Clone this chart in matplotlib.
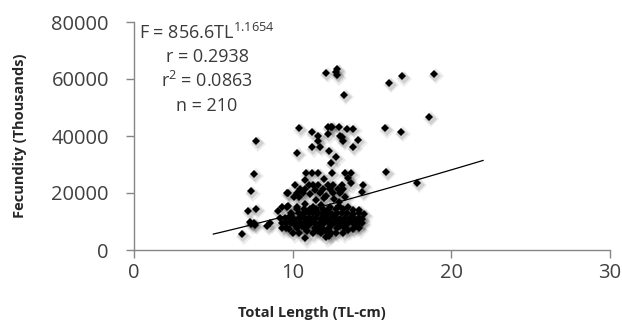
#! /usr/bin/env python3

import numpy as np
import matplotlib
matplotlib.use("Agg")
from matplotlib import pyplot as plt
from matplotlib import transforms

plt.rcParams['font.family'] = ['Open Sans', 'DejaVu Sans']
plt.rcParams['mathtext.fontset'] = 'custom'
plt.rcParams['mathtext.rm'] = 'Open Sans'

# Total length (cm) vs fecundity (thousands)
tl = [
    # high / scattered
    12.1, 12.8, 12.8, 12.7, 13.25, 16.1, 16.9, 18.9,
    10.4, 11.2, 11.6, 11.6, 12.2, 12.4, 12.9, 12.5, 13.4, 13.8, 12.2, 13.1,
    13.2, 13.0, 14.1, 13.8, 11.2, 11.7, 10.3, 12.3, 12.7, 12.4, 7.7, 15.85,
    16.8, 18.6, 15.9, 17.85, 14.45, 14.4,
    # left group
    7.55, 7.35, 7.2, 7.7, 7.3, 7.55, 7.4, 7.6, 6.8, 8.4, 8.6, 9.05, 9.65,
    9.65, 9.6, 9.6,
    # middle band
    10.85, 11.2, 11.6, 12.45, 13.3, 13.65, 13.5, 10.8, 12.0,
    10.15, 11.0, 11.3, 11.6, 12.25, 12.55, 13.1, 13.7,
    10.45, 10.8, 11.9, 12.35, 12.85, 13.2, 11.4,
    9.7, 10.25, 10.65, 11.7, 12.55, 13.0, 11.1, 12.1,
    10.1, 10.4, 12.0, 12.6, 13.3, 11.5, 12.9,
    # dense low cluster
    9.3, 9.7, 10.25, 11.3, 12.35, 11.8, 12.9, 13.5, 10.8,
    10.3, 10.7, 11.1, 11.5, 11.9, 12.3, 12.7, 13.2, 13.8, 14.2,
    9.9, 10.4, 10.8, 11.0, 11.3, 11.6, 11.9, 12.2, 12.5, 12.8, 13.1, 13.4,
    13.8, 14.2, 14.5,
    9.2, 9.5, 9.8, 10.1, 10.4, 10.7, 11.0, 11.2, 11.5, 11.8, 12.1, 12.4,
    12.7, 13.0, 13.3, 13.6, 13.9, 14.2, 14.4, 10.6, 11.9, 12.6,
    9.3, 9.6, 9.9, 10.2, 10.5, 10.8, 11.1, 11.4, 11.7, 12.0, 12.3, 12.6,
    12.9, 13.2, 13.5, 13.8, 14.1, 14.4, 10.0, 11.3, 12.2, 12.9, 13.6, 11.0,
    12.4, 13.3,
    9.35, 9.8, 10.3, 10.8, 11.4, 11.9, 12.3, 12.8, 13.3, 13.8, 14.2, 10.6,
    11.7, 13.0, 14.0,
    10.0, 10.4, 11.3, 11.8, 12.4, 12.7, 13.2, 10.9, 12.1,
    10.8, 12.1, 12.3,
    11.5, 12.0, 10.9, 12.7, 11.6, 13.5, 10.2, 9.9,
]

fecundity = [
    62200, 63400, 61400, 62500, 54400, 58700, 61000, 61800,
    42700, 41300, 40000, 38400, 43300, 43300, 43300, 43000, 42500, 42500, 40700, 39500,
    38400, 40000, 38500, 36300, 36000, 36200, 34200, 34800, 32500, 30600, 38100, 42800,
    41500, 46700, 27500, 23600, 22800, 20500,
    26700, 20600, 13700, 14500, 9900, 9400, 9000, 8800, 5600, 8500, 9300, 13800, 20100,
    15000, 9400, 7600,
    26900, 26900, 26900, 26900, 26900, 27000, 25100, 24500, 24800,
    22800, 22800, 22800, 22800, 22800, 22800, 22800, 23500,
    21300, 21300, 21300, 21300, 21300, 21300, 21000,
    19900, 19900, 19900, 19900, 19900, 19900, 19500, 19000,
    18500, 18700, 18400, 18000, 18500, 17500, 17000,
    15200, 15500, 15200, 15200, 15200, 15800, 15500, 15000, 16000,
    14300, 14300, 14300, 14300, 14300, 14300, 14300, 14300, 14200, 14000,
    12900, 12900, 12900, 13100, 12900, 12900, 13000, 12900, 12800, 12900, 12900, 12900,
    12700, 12900, 12600,
    11100, 11300, 11100, 11000, 11100, 11200, 11100, 10900, 11100, 11000, 11100, 11200,
    11100, 11000, 11100, 11100, 11000, 11100, 10800, 12000, 12100, 12000,
    9400, 9500, 9300, 9400, 9600, 9400, 9300, 9500, 9400, 9400, 9300, 9500,
    9400, 9300, 9400, 9500, 9300, 9500, 10200, 10300, 10200, 10100, 10200, 8600,
    8700, 8600,
    7600, 7500, 7700, 7600, 7700, 7500, 7600, 7700, 7600, 7500, 7600, 8300,
    8300, 8400, 8300,
    5900, 6000, 5800, 6100, 5900, 6000, 5900, 6500, 6700,
    4100, 4500, 5000,
    13600, 13700, 10500, 10600, 6800, 6900, 8400, 12200,
]

# power trendline F = a * TL^b shown on the chart
fit_a = 856.6
fit_b = 1.1654
fit_range = (5, 22)

xticks = [0, 10, 20, 30]
yticks = [0, 20000, 40000, 60000, 80000]

gray = "#868686"
txt = "#3a3a3a"

fig = plt.figure(figsize=(6.22, 3.27), dpi=100)
ax = fig.add_axes([134/622, 77/327, 476/622, 228/327])

# soft shadow like the spreadsheet marker effect (two layers for a blur)
for dx, dy, ms, a in [(2.0, -2.5, 8.0, 0.07), (1.5, -2.0, 6.0, 0.12)]:
    shadow = transforms.offset_copy(ax.transData, fig=fig, x=dx, y=dy, units='dots')
    ax.plot(tl, fecundity, 'D', color='black', alpha=a, markersize=ms,
            markeredgewidth=0, transform=shadow, zorder=2)
ax.plot(tl, fecundity, 'D', color='black', markersize=3.8, markeredgewidth=0, zorder=3)

xf = np.linspace(fit_range[0], fit_range[1], 60)
ax.plot(xf, fit_a * xf ** fit_b, color='black', linewidth=0.9, zorder=4)

ax.set_xlim(0, 30)
ax.set_ylim(0, 80000)
ax.set_xticks(xticks)
ax.set_yticks(yticks)
ax.set_xticklabels([str(v) for v in xticks])
ax.set_yticklabels([str(v) for v in yticks])

for s in ['top', 'right']:
    ax.spines[s].set_visible(False)
for s in ['left', 'bottom']:
    ax.spines[s].set_color(gray)
    ax.spines[s].set_linewidth(1.0)

ax.tick_params(axis='both', direction='out', color=gray, length=6, width=1.0,
               labelsize=14.5, labelcolor='#404040')
ax.tick_params(axis='y', pad=12)
ax.tick_params(axis='x', pad=3)

# equation block
ax.text(4.6, 76100, r"F = 856.6TL$^{1.1654}$", ha='center', va='center', fontsize=13, color=txt)
ax.text(4.6, 67700, "r = 0.2938", ha='center', va='center', fontsize=13, color=txt)
ax.text(4.6, 59300, r"r$^{2}$ = 0.0863", ha='center', va='center', fontsize=13, color=txt)
ax.text(4.6, 50500, "n = 210", ha='center', va='center', fontsize=13, color=txt)

fig.text(312/622, 1 - 313/327, "Total Length (TL-cm)", ha='center', va='center',
         fontsize=10.5, fontweight='bold', color='#262626')
fig.text(20/622, 1 - 136/327, "Fecundity (Thousands)", ha='center', va='center',
         rotation=90, fontsize=10.5, fontweight='bold', color='#262626')

plt.savefig("out.png", dpi=100)
